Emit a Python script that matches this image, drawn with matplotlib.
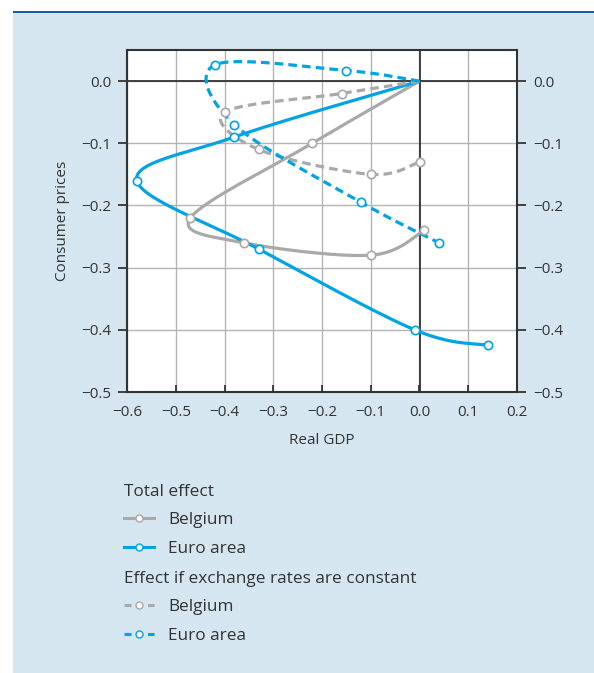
import numpy as np
import matplotlib
matplotlib.use("Agg")
import matplotlib.pyplot as plt
from matplotlib.lines import Line2D
from matplotlib.patches import Rectangle

plt.rcParams['font.family'] = ['Open Sans', 'DejaVu Sans']

# Impulse responses, starting at the origin (real GDP, consumer prices)
be_total_gdp = [0.0, -0.22, -0.47, -0.36, -0.10, 0.01]
be_total_cpi = [0.0, -0.10, -0.22, -0.26, -0.28, -0.24]
ea_total_gdp = [0.0, -0.38, -0.58, -0.33, -0.01, 0.14]
ea_total_cpi = [0.0, -0.09, -0.16, -0.27, -0.40, -0.425]
be_fixed_gdp = [0.0, -0.16, -0.40, -0.33, -0.10, 0.00]
be_fixed_cpi = [0.0, -0.02, -0.05, -0.11, -0.15, -0.13]
ea_fixed_gdp = [0.0, -0.15, -0.42, -0.38, -0.12, 0.04]
ea_fixed_cpi = [0.0, 0.017, 0.026, -0.07, -0.195, -0.26]

BLUE = '#00A3E3'
GREY = '#A9A9A9'
BG = '#D5E6F0'
TXT = '#333333'


def smooth(xs, ys, n=30):
    # Catmull-Rom curve through the points (like a spreadsheet "smoothed line")
    p = np.column_stack([xs, ys])
    p = np.vstack([p[0], p, p[-1]])
    out = []
    for i in range(1, len(p) - 2):
        p0, p1, p2, p3 = p[i - 1], p[i], p[i + 1], p[i + 2]
        c1 = p1 + (p2 - p0) / 6
        c2 = p2 - (p3 - p1) / 6
        t = np.linspace(0, 1, n)[:, None]
        seg = (1 - t) ** 3 * p1 + 3 * (1 - t) ** 2 * t * c1 + 3 * (1 - t) * t ** 2 * c2 + t ** 3 * p2
        out.append(seg)
    out = np.vstack(out)
    return out[:, 0], out[:, 1]


def fmt(v, pos):
    s = f'{v:.1f}'
    if s == '-0.0':
        s = '0.0'
    return s.replace('-', '\u2212')


fig = plt.figure(figsize=(5.94, 6.73), dpi=100, facecolor='white')
fig.patches.append(Rectangle((13 / 594, 0), 1, 1 - 13 / 673, transform=fig.transFigure,
                             facecolor=BG, edgecolor='none', zorder=-10))
fig.patches.append(Rectangle((13 / 594, 1 - 13 / 673), 1, 2 / 673, transform=fig.transFigure,
                             facecolor='#1B5FA3', edgecolor='none', zorder=-10))

ax = fig.add_axes([127 / 594, 1 - 392 / 673, 390 / 594, 342 / 673])
ax.set_facecolor('white')

series = [
    (be_total_gdp, be_total_cpi, GREY, '-'),
    (ea_total_gdp, ea_total_cpi, BLUE, '-'),
    (be_fixed_gdp, be_fixed_cpi, GREY, '--'),
    (ea_fixed_gdp, ea_fixed_cpi, BLUE, '--'),
]
for gx, gy, col, ls in series:
    sx, sy = smooth(gx, gy)
    ln, = ax.plot(sx, sy, color=col, lw=2.3, ls=ls, zorder=3, solid_capstyle='butt')
    if ls == '--':
        ln.set_dashes((2.7, 1.6))
    ax.plot(gx[1:], gy[1:], ls='none', marker='o', ms=6, mfc='white', mec=col, mew=1.2, zorder=4)

ax.set_xlim(-0.6, 0.2)
ax.set_ylim(-0.5, 0.05)
ax.set_xticks(np.arange(-0.6, 0.21, 0.1))
ax.set_yticks(np.arange(-0.5, 0.01, 0.1))
ax.xaxis.set_major_formatter(plt.FuncFormatter(fmt))
ax.yaxis.set_major_formatter(plt.FuncFormatter(fmt))
ax.grid(True, color='#B3B3B3', lw=1.0, zorder=1)
ax.axhline(0, color='#333333', lw=1.3, zorder=2)
ax.axvline(0, color='#333333', lw=1.3, zorder=2)
for s in ax.spines.values():
    s.set_color('#333333')
    s.set_linewidth(1.5)

ax.tick_params(axis='y', which='both', left=True, right=True, labelleft=True, labelright=True,
               direction='out', length=6.5, width=1.3, color='#333333', labelsize=11,
               labelcolor=TXT, pad=5)
ax.tick_params(axis='x', direction='in', length=5, width=1.3, color='#333333', labelsize=11,
               labelcolor=TXT, pad=9)

ax.set_xlabel('Real GDP', fontsize=11, color=TXT, labelpad=10)
ax.set_ylabel('Consumer prices', fontsize=11, color=TXT, labelpad=8)


# legend, in two blocks with a heading each
def handle(col, ls):
    h = Line2D([], [], color=col, lw=2.2, marker='o', ms=5, mfc='white', mec=col, mew=1.0)
    if ls == '--':
        h.set_linestyle((0, (2.3, 5.4)))
    return h


leg_kw = dict(loc='upper left', frameon=False, fontsize=12.4, title_fontsize=12.4, borderpad=0,
              borderaxespad=0, handlelength=1.75, handletextpad=0.8, labelspacing=0.72,
              alignment='left', labelcolor=TXT)
leg1 = fig.legend([handle(GREY, '-'), handle(BLUE, '-')], ['Belgium', 'Euro area'],
                  title='Total effect', bbox_to_anchor=(124 / 594, 1 - 484 / 673), **leg_kw)
leg2 = fig.legend([handle(GREY, '--'), handle(BLUE, '--')], ['Belgium', 'Euro area'],
                  title='Effect if exchange rates are constant',
                  bbox_to_anchor=(124 / 594, 1 - 571 / 673), **leg_kw)
for lg in (leg1, leg2):
    lg.get_title().set_color(TXT)

fig.savefig('out.png', dpi=100, facecolor=fig.get_facecolor())
